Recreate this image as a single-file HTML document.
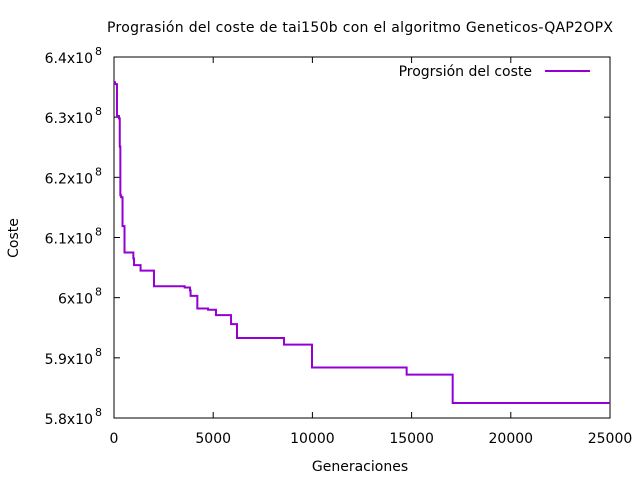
<!DOCTYPE html>
<html><head><meta charset="utf-8"><style>
body{margin:0;background:#fff;}
svg{display:block;font-family:"DejaVu Sans","Liberation Sans",sans-serif;font-size:14px;}
</style></head><body>
<svg id="chart" width="640" height="480">
<text x="360" y="32" text-anchor="middle" textLength="506">Prograsión del coste de tai150b con el algoritmo Geneticos-QAP2OPX</text>
<text x="360" y="471" text-anchor="middle">Generaciones</text>
<text x="18" y="238" text-anchor="middle" transform="rotate(-90 18 238)">Coste</text>
<g id="axes"></g>
<g id="series"></g>
<g>
<text x="532" y="76" text-anchor="end">Progrsión del coste</text>
<line x1="545" y1="71" x2="590" y2="71" stroke="#9400d3" stroke-width="2"/>
</g>
</svg>
<script>
const xTicks=[0,5000,10000,15000,20000,25000];
const yTicks=[5.8,5.9,6.0,6.1,6.2,6.3,6.4];
const yTickLabels=["5.8x10","5.9x10","6x10","6.1x10","6.2x10","6.3x10","6.4x10"];
const gens=[0,50,150,250,290,320,360,430,530,975,1010,1340,2015,3560,3830,3860,4200,4740,5140,5900,6200,8570,9980,14750,17070,25000];
const costs=[6.358,6.355,6.302,6.298,6.251,6.170,6.167,6.119,6.075,6.065,6.054,6.045,6.019,6.017,6.012,6.003,5.982,5.980,5.971,5.956,5.933,5.922,5.884,5.872,5.825,5.825];
const L=114,R=610,T=57,B=418;
const xs=v=>L+(v-0)/25000*(R-L);
const ys=v=>B-(v-5.8)/0.6*(B-T);
const NS="http://www.w3.org/2000/svg";
const ax=document.getElementById('axes');
function mk(tag,attrs,parent){const e=document.createElementNS(NS,tag);for(const k in attrs)e.setAttribute(k,attrs[k]);parent.appendChild(e);return e;}
const frame=mk('rect',{x:L,y:T,width:R-L,height:B-T,fill:'none',stroke:'#000','stroke-width':1},ax);


xTicks.forEach(v=>{const x=xs(v);
mk('line',{x1:x,y1:B,x2:x,y2:B-6,stroke:'#000'},ax);
mk('line',{x1:x,y1:T,x2:x,y2:T+6,stroke:'#000'},ax);
const t=mk('text',{x:x,y:B+25,'text-anchor':'middle'},ax);t.textContent=v;

});
yTicks.forEach((v,i)=>{const y=ys(v);
mk('line',{x1:L,y1:y,x2:L+6,y2:y,stroke:'#000'},ax);
mk('line',{x1:R,y1:y,x2:R-6,y2:y,stroke:'#000'},ax);
const t=mk('text',{x:93,y:y+6,'text-anchor':'end'},ax);t.textContent=yTickLabels[i];


const s=mk('text',{x:95,y:y-2,'font-size':'11'},ax);s.textContent='8';

});
let d='';
gens.forEach((g,i)=>{const x=xs(g),y=ys(costs[i]);
if(i===0)d+=`M${x},${y}`;else d+=`H${x}V${y}`;});
const p=mk('path',{d:d,fill:'none',stroke:'#9400d3','stroke-width':2},document.getElementById('series'));


</script>
</body></html>
